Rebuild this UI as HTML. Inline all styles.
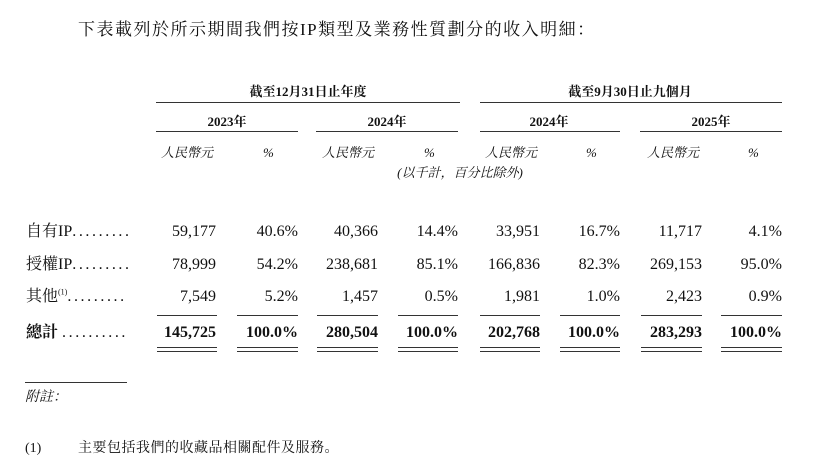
<!DOCTYPE html>
<html><head><meta charset="utf-8"><style>
body{margin:0;width:832px;height:468px;background:#fff;position:relative;overflow:hidden;font-family:"Liberation Serif","Noto Serif CJK SC",serif;color:#111}
.a{position:absolute;white-space:nowrap;line-height:18px}
.l{position:absolute;height:1px;background:#333}
.r{text-align:right}
.c{text-align:center}
.it{font-style:italic}
.b{font-weight:bold}
.d{font-size:16px}
.dots{letter-spacing:2.6px}
</style></head><body>
<div class="a" style="left:78px;top:21px;font-size:17px;letter-spacing:1.5px">下表載列於所示期間我們按IP類型及業務性質劃分的收入明細：</div>

<div class="a b c" style="left:156px;width:304px;top:83px;font-size:13px">截至12月31日止年度</div>
<div class="a b c" style="left:478px;width:304px;top:83px;font-size:13px">截至9月30日止九個月</div>
<div class="l" style="left:156px;width:304px;top:102px"></div>
<div class="l" style="left:480px;width:302px;top:102px"></div>

<div class="a b c" style="left:156px;width:142px;top:113px;font-size:13px">2023年</div>
<div class="a b c" style="left:316px;width:142px;top:113px;font-size:13px">2024年</div>
<div class="a b c" style="left:478px;width:142px;top:113px;font-size:13px">2024年</div>
<div class="a b c" style="left:640px;width:142px;top:113px;font-size:13px">2025年</div>
<div class="l" style="left:156px;width:142px;top:131px"></div>
<div class="l" style="left:316px;width:142px;top:131px"></div>
<div class="l" style="left:480px;width:140px;top:131px"></div>
<div class="l" style="left:640px;width:142px;top:131px"></div>

<div class="a it" style="left:161px;top:144px;font-size:13px">人民幣元</div>
<div class="a it" style="left:263px;top:144px;font-size:13px">%</div>
<div class="a it" style="left:322px;top:144px;font-size:13px">人民幣元</div>
<div class="a it" style="left:424px;top:144px;font-size:13px">%</div>
<div class="a it" style="left:485px;top:144px;font-size:13px">人民幣元</div>
<div class="a it" style="left:586px;top:144px;font-size:13px">%</div>
<div class="a it" style="left:647px;top:144px;font-size:13px">人民幣元</div>
<div class="a it" style="left:748px;top:144px;font-size:13px">%</div>
<div class="a it c" style="left:380px;width:160px;top:164px;font-size:13px">(以千計，百分比除外)</div>

<div class="a d" style="left:26px;top:223px">自有IP<span class="dots">.........</span></div>
<div class="a d" style="left:26px;top:256px">授權IP<span class="dots">.........</span></div>
<div class="a d" style="left:26px;top:288px">其他<sup style="font-size:8px;line-height:0">(1)</sup><span class="dots">.........</span></div>
<div class="a d b" style="left:26px;top:324px">總計 <span class="dots" style="font-weight:normal">..........</span></div>

<div class="a d r" style="left:100px;width:116px;top:223px">59,177</div>
<div class="a d r" style="left:200px;width:98px;top:223px">40.6%</div>
<div class="a d r" style="left:260px;width:118px;top:223px">40,366</div>
<div class="a d r" style="left:360px;width:98px;top:223px">14.4%</div>
<div class="a d r" style="left:420px;width:120px;top:223px">33,951</div>
<div class="a d r" style="left:520px;width:100px;top:223px">16.7%</div>
<div class="a d r" style="left:580px;width:122px;top:223px">11,717</div>
<div class="a d r" style="left:680px;width:102px;top:223px">4.1%</div>

<div class="a d r" style="left:100px;width:116px;top:256px">78,999</div>
<div class="a d r" style="left:200px;width:98px;top:256px">54.2%</div>
<div class="a d r" style="left:260px;width:118px;top:256px">238,681</div>
<div class="a d r" style="left:360px;width:98px;top:256px">85.1%</div>
<div class="a d r" style="left:420px;width:120px;top:256px">166,836</div>
<div class="a d r" style="left:520px;width:100px;top:256px">82.3%</div>
<div class="a d r" style="left:580px;width:122px;top:256px">269,153</div>
<div class="a d r" style="left:680px;width:102px;top:256px">95.0%</div>

<div class="a d r" style="left:100px;width:116px;top:288px">7,549</div>
<div class="a d r" style="left:200px;width:98px;top:288px">5.2%</div>
<div class="a d r" style="left:260px;width:118px;top:288px">1,457</div>
<div class="a d r" style="left:360px;width:98px;top:288px">0.5%</div>
<div class="a d r" style="left:420px;width:120px;top:288px">1,981</div>
<div class="a d r" style="left:520px;width:100px;top:288px">1.0%</div>
<div class="a d r" style="left:580px;width:122px;top:288px">2,423</div>
<div class="a d r" style="left:680px;width:102px;top:288px">0.9%</div>

<div class="a d r b" style="left:100px;width:116px;top:324px">145,725</div>
<div class="a d r b" style="left:200px;width:98px;top:324px">100.0%</div>
<div class="a d r b" style="left:260px;width:118px;top:324px">280,504</div>
<div class="a d r b" style="left:360px;width:98px;top:324px">100.0%</div>
<div class="a d r b" style="left:420px;width:120px;top:324px">202,768</div>
<div class="a d r b" style="left:520px;width:100px;top:324px">100.0%</div>
<div class="a d r b" style="left:580px;width:122px;top:324px">283,293</div>
<div class="a d r b" style="left:680px;width:102px;top:324px">100.0%</div>

<div class="l" style="left:157px;width:60px;top:315px"></div>
<div class="l" style="left:237px;width:61px;top:315px"></div>
<div class="l" style="left:317px;width:61px;top:315px"></div>
<div class="l" style="left:398px;width:60px;top:315px"></div>
<div class="l" style="left:480px;width:60px;top:315px"></div>
<div class="l" style="left:560px;width:60px;top:315px"></div>
<div class="l" style="left:641px;width:61px;top:315px"></div>
<div class="l" style="left:721px;width:61px;top:315px"></div>
<div class="l" style="left:157px;width:60px;top:347px"></div>
<div class="l" style="left:237px;width:61px;top:347px"></div>
<div class="l" style="left:317px;width:61px;top:347px"></div>
<div class="l" style="left:398px;width:60px;top:347px"></div>
<div class="l" style="left:480px;width:60px;top:347px"></div>
<div class="l" style="left:560px;width:60px;top:347px"></div>
<div class="l" style="left:641px;width:61px;top:347px"></div>
<div class="l" style="left:721px;width:61px;top:347px"></div>
<div class="l" style="left:157px;width:60px;top:351px"></div>
<div class="l" style="left:237px;width:61px;top:351px"></div>
<div class="l" style="left:317px;width:61px;top:351px"></div>
<div class="l" style="left:398px;width:60px;top:351px"></div>
<div class="l" style="left:480px;width:60px;top:351px"></div>
<div class="l" style="left:560px;width:60px;top:351px"></div>
<div class="l" style="left:641px;width:61px;top:351px"></div>
<div class="l" style="left:721px;width:61px;top:351px"></div>

<div class="l" style="left:25px;width:102px;top:382px"></div>
<div class="a it" style="left:25px;top:389px;font-size:14px">附註：</div>
<div class="a" style="left:25px;top:440px;font-size:14px">(1)</div>
<div class="a" style="left:78px;top:440px;font-size:14px;letter-spacing:0.5px">主要包括我們的收藏品相關配件及服務。</div>
</body></html>
